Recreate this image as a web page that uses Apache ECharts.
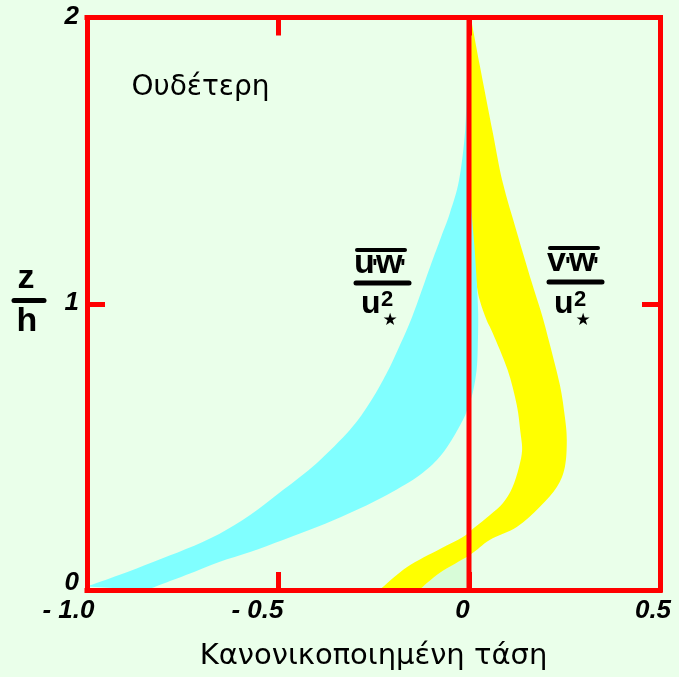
<!DOCTYPE html>
<html>
<head>
<meta charset="utf-8">
<script src="https://cdn.jsdelivr.net/npm/echarts@6/dist/echarts.min.js"></script>
<style>
  html, body { margin: 0; padding: 0; background: #eaffea; }
  #chart { width: 679px; height: 677px; }
</style>
</head>
<body>
<div id="chart"></div>
<script>
// Axis ticks and their printed labels
const xTicks = [-1.0, -0.5, 0, 0.5];
const xTickText = ['- 1.0', '- 0.5', '0', '0.5'];
const yTicks = [0, 1, 2];
const yTickText = ['0', '1', '2'];

// u'w'/u*² band: outer (more negative) edge, bottom to top
const uwOuterZ = [0.012, 0.052, 0.098, 0.143, 0.196, 0.262, 0.349, 0.444, 0.559, 0.639, 0.734, 0.817, 0.954, 1.128, 1.233, 1.317, 1.432, 1.607, 1.80];
const uwOuterX = [-1.0, -0.916, -0.827, -0.741, -0.654, -0.573, -0.487, -0.398, -0.312, -0.267, -0.225, -0.194, -0.149, -0.102, -0.073, -0.050, -0.026, -0.010, -0.005];
// u'w'/u*² band: inner edge, top to bottom
const uwInnerZ = [1.80, 1.60, 1.40, 1.30, 1.205, 1.083, 0.968, 0.850, 0.769, 0.690, 0.629, 0.594, 0.514, 0.454, 0.395, 0.325, 0.269, 0.220, 0.175, 0.133, 0.098, 0.052, 0.0];
const uwInnerX = [-0.002, 0.0, 0.003, 0.008, 0.014, 0.020, 0.024, 0.023, 0.020, 0.010, -0.005, -0.016, -0.050, -0.084, -0.136, -0.225, -0.312, -0.398, -0.487, -0.573, -0.654, -0.741, -0.843];

// v'w'/u*² band: left edge, top to bottom
const vwLeftZ = [1.984, 1.71, 1.40, 1.212, 1.083, 1.013, 0.943, 0.898, 0.769, 0.646, 0.548, 0.489, 0.430, 0.356, 0.304, 0.262, 0.220, 0.185, 0.143, 0.080, 0.0];
const vwLeftX = [0.007, 0.004, 0.004, 0.004, 0.018, 0.028, 0.046, 0.062, 0.101, 0.125, 0.135, 0.139, 0.131, 0.113, 0.089, 0.055, 0.016, -0.016, -0.076, -0.162, -0.234];
// v'w'/u*² band: right edge, bottom to top
const vwRightZ = [0.0, 0.059, 0.122, 0.175, 0.220, 0.290, 0.360, 0.430, 0.524, 0.604, 0.716, 0.856, 0.961, 1.076, 1.251, 1.425, 1.600, 1.834, 1.984];
const vwRightX = [-0.13, -0.077, 0.002, 0.054, 0.125, 0.185, 0.230, 0.251, 0.256, 0.251, 0.238, 0.212, 0.191, 0.164, 0.125, 0.088, 0.062, 0.028, 0.007];

// Zero-stress reference line
const zeroLineX = [0, 0];
const zeroLineZ = [0, 2];

const RED = '#ff0000';
const BG = '#eaffea';

function pairs(xs, zs) { return xs.map((x, i) => [x, zs[i]]); }

// Smooth (Catmull-Rom) path segment through a list of pixel points
function smoothSegment(pts, moveFirst) {
  let d = (moveFirst ? 'M' : 'L') + pts[0][0] + ',' + pts[0][1];
  for (let i = 0; i < pts.length - 1; i++) {
    const p0 = pts[Math.max(i - 1, 0)], p1 = pts[i], p2 = pts[i + 1], p3 = pts[Math.min(i + 2, pts.length - 1)];
    const c1 = [p1[0] + (p2[0] - p0[0]) / 6, p1[1] + (p2[1] - p0[1]) / 6];
    const c2 = [p2[0] - (p3[0] - p1[0]) / 6, p2[1] - (p3[1] - p1[1]) / 6];
    d += 'C' + c1[0] + ',' + c1[1] + ' ' + c2[0] + ',' + c2[1] + ' ' + p2[0] + ',' + p2[1];
  }
  return d;
}

// A filled region bounded by several smooth edges (given in data units)
function bandSeries(edges, color, z) {
  const all = [].concat.apply([], edges);
  return {
    type: 'custom',
    coordinateSystem: 'cartesian2d',
    data: all,
    clip: true,
    silent: true,
    z: z,
    renderItem: function (params, api) {
      if (params.dataIndex !== 0) return null;
      let d = '';
      edges.forEach((edge, k) => { d += smoothSegment(edge.map(p => api.coord(p)), k === 0); });
      d += 'Z';
      return { type: 'path', shape: { pathData: d }, style: { fill: color, stroke: null } };
    }
  };
}

const uwEdges = [pairs(uwOuterX, uwOuterZ), pairs(uwInnerX, uwInnerZ)];
const vwEdges = [pairs(vwLeftX, vwLeftZ), pairs(vwRightX, vwRightZ)];
// pale patch under the v'w' band, left of zero
const patchEdges = [pairs(vwRightX, vwRightZ).filter(p => p[0] <= 0.002), [[0, vwRightZ[2]], [0, 0]]];

const tickFont = { fontFamily: 'Liberation Sans', fontWeight: 'bold', fontStyle: 'italic', fontSize: 26, color: '#000' };
const xShift = [37, 41, 13, 14];

function xLabel(v) {
  const i = xTicks.findIndex(t => Math.abs(t - v) < 1e-6);
  return i < 0 ? '' : '{t' + i + '|' + xTickText[i] + '}';
}
function yLabel(v) {
  const i = yTicks.findIndex(t => Math.abs(t - v) < 1e-6);
  return i < 0 ? '' : '{y' + i + '|' + yTickText[i] + '}';
}
const xRich = {};
xShift.forEach((s, i) => { xRich['t' + i] = Object.assign({ padding: [0, s, 0, 0] }, tickFont); });
const yRich = {
  y0: Object.assign({ padding: [0, 0, 15, 0] }, tickFont),
  y1: Object.assign({ padding: [0, 0, 2, 0] }, tickFont),
  y2: Object.assign({ padding: [0, 0, 2, 0] }, tickFont)
};

const axisLineStyle = { show: true, onZero: false, lineStyle: { color: RED, width: 5, cap: 'square' } };
const tickStyle = { show: true, inside: true, length: 18, lineStyle: { color: RED, width: 5 } };

function txt(x, y, s, font, align) {
  return { type: 'text', x: x, y: y, style: { text: s, font: font, fill: '#000', align: align || 'left', verticalAlign: 'middle' } };
}
function hline(x1, x2, y, w) {
  return { type: 'line', shape: { x1: x1, y1: y, x2: x2, y2: y }, style: { stroke: '#000', lineWidth: w, lineCap: 'round' } };
}
const BIG = 'bold 34px "Liberation Sans"';
const PRIME = 'bold 24px "Liberation Sans"';
// stacked covariance label: overline, a'w', fraction bar, u*²
function fluxLabel(x0, a, yOver, yBase, yBar) {
  return [
    hline(x0 + 2, x0 + 50, yOver, 4),
    txt(x0 - 1, yBase - 11.8, a, BIG),
    txt(x0 + 17, yBase - 6, "'", PRIME),
    txt(x0 + 21, yBase - 11.8, 'w', BIG),
    txt(x0 + 45, yBase - 6, "'", PRIME),
    hline(x0 + 1, x0 + 54, yBar, 5),
    txt(x0 + 6, 304, 'u', 'bold 32px "Liberation Sans"'),
    txt(x0 + 26, 300.4, '2', 'bold 22px "Liberation Sans"'),
    txt(x0 + 35, 321, '★', '17px "DejaVu Sans"', 'center')
  ];
}

const chart = echarts.init(document.getElementById('chart'), null, { renderer: 'canvas' });

chart.setOption({
  backgroundColor: BG,
  animation: false,
  grid: { left: 87, right: 19, top: 17.5, bottom: 87, containLabel: false },
  xAxis: [
    {
      type: 'value', position: 'bottom', min: -1.0, max: 0.5, interval: 0.5, z: 10,
      axisLine: axisLineStyle, axisTick: tickStyle, splitLine: { show: false },
      axisLabel: { margin: 8, formatter: xLabel, rich: xRich },
      name: 'Κανονικοποιημένη τάση', nameLocation: 'middle', nameGap: 52,
      nameTextStyle: { fontFamily: 'DejaVu Sans', fontSize: 29, color: '#000' }
    },
    {
      type: 'value', position: 'top', min: -1.0, max: 0.5, interval: 0.5, z: 10,
      axisLine: axisLineStyle, axisTick: tickStyle, splitLine: { show: false },
      axisLabel: { show: false }
    }
  ],
  yAxis: [
    {
      type: 'value', position: 'left', min: 0, max: 2, interval: 1, z: 10,
      axisLine: axisLineStyle, axisTick: tickStyle, splitLine: { show: false },
      axisLabel: { margin: 8, formatter: yLabel, rich: yRich }
    },
    {
      type: 'value', position: 'right', min: 0, max: 2, interval: 1, z: 10,
      axisLine: axisLineStyle, axisTick: tickStyle, splitLine: { show: false },
      axisLabel: { show: false }
    }
  ],
  series: [
    bandSeries(patchEdges, '#d8fcd8', 1),
    bandSeries(vwEdges, '#ffff00', 2),
    bandSeries(uwEdges, '#80ffff', 3),
    {
      type: 'line', data: pairs(zeroLineX, zeroLineZ), showSymbol: false, silent: true, z: 8,
      lineStyle: { color: RED, width: 5 }
    }
  ],
  graphic: [
    txt(131.5, 87.3, 'Ουδέτερη', '28px "DejaVu Sans"'),
    txt(26, 279, 'z', 'bold 34px "Liberation Sans"', 'center'),
    hline(14, 44, 300.5, 5),
    txt(27, 321.2, 'h', 'bold 34px "Liberation Sans"', 'center')
  ].concat(fluxLabel(355, 'u', 250, 275, 283)).concat(fluxLabel(548, 'v', 248, 273, 282))
});
</script>
</body>
</html>
